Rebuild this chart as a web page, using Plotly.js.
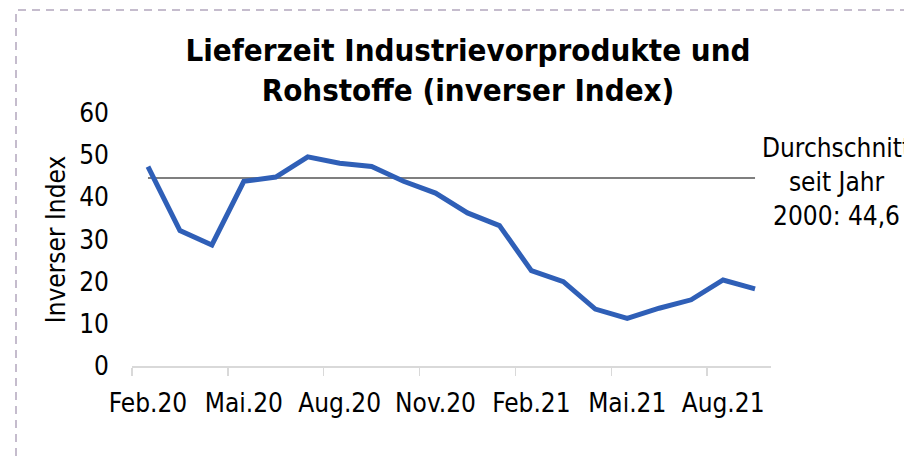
<!DOCTYPE html>
<html>
<head>
<meta charset="utf-8">
<script src="https://cdn.plot.ly/plotly-3.0.1.min.js"></script>
<style>
html, body { margin: 0; padding: 0; background: #fff; }
#chart { width: 904px; height: 459px; }
</style>
</head>
<body>
<div id="chart"></div>
<script>
const months = ["Feb.20","Mär.20","Apr.20","Mai.20","Jun.20","Jul.20","Aug.20","Sep.20","Okt.20","Nov.20","Dez.20","Jan.21","Feb.21","Mär.21","Apr.21","Mai.21","Jun.21","Jul.21","Aug.21","Sep.21"];
const inverseIndex = [47.3, 32.1, 28.7, 43.8, 44.8, 49.6, 48.1, 47.3, 43.8, 41.0, 36.3, 33.3, 22.6, 20.0, 13.5, 11.3, 13.7, 15.7, 20.4, 18.3];
const averageSince2000 = 44.6;
const averageSeries = months.map(() => averageSince2000);

const FONT = '"DejaVu Sans Condensed", "DejaVu Sans", sans-serif';

const L = 132, R = 133, T = 113, B = 93;
const W = 904, H = 459;
const pw = W - L - R, ph = H - T - B;
const px = x => (x - L) / pw;
const py = y => (H - B - y) / ph;

const traces = [
  {
    x: months, y: averageSeries, type: 'scatter', mode: 'lines',
    line: { color: '#7f7f7f', width: 2 }, hoverinfo: 'skip', showlegend: false
  },
  {
    x: months, y: inverseIndex, type: 'scatter', mode: 'lines',
    line: { color: '#2f5fb7', width: 5 }, showlegend: false
  }
];

const layout = {
  width: W, height: H,
  margin: { l: L, r: R, t: T, b: B, pad: 0 },
  paper_bgcolor: '#fff', plot_bgcolor: '#fff',
  font: { family: FONT, size: 26, color: '#000' },
  title: {
    text: '<b>Lieferzeit Industrievorprodukte und<br>Rohstoffe (inverser Index)</b>',
    font: { family: FONT, size: 31, color: '#000' },
    xref: 'container', yref: 'container', x: 468 / W, y: 1 - 61 / H,
    xanchor: 'center', yanchor: 'middle'
  },
  xaxis: {
    type: 'category', range: [-0.5, months.length - 0.5],
    tickmode: 'linear', tick0: 0, dtick: 3, tickson: 'boundaries',
    ticks: 'outside', ticklen: 8, tickcolor: '#d9d9d9', tickwidth: 1.5,
    showline: true, linecolor: '#d9d9d9', linewidth: 1.5,
    showgrid: false, zeroline: false, tickangle: 0,
    tickfont: { family: FONT, size: 26, color: '#000' },
    ticklabelstandoff: 13, fixedrange: true
  },
  yaxis: {
    range: [0, 60], tickmode: 'linear', tick0: 0, dtick: 10,
    showgrid: false, zeroline: false, showline: false, ticks: '',
    tickfont: { family: FONT, size: 26, color: '#000' },
    ticklabelstandoff: 22,
    title: { text: 'Inverser Index', font: { family: FONT, size: 26, color: '#000' }, standoff: 6 },
    fixedrange: true
  },
  annotations: [
    {
      text: 'Durchschnitt<br>seit Jahr<br>2000: 44,6',
      xref: 'paper', yref: 'paper', x: px(836), y: py(182),
      xanchor: 'center', yanchor: 'middle', showarrow: false, align: 'center',
      font: { family: FONT, size: 26, color: '#000' }
    }
  ],
  shapes: [
    {
      type: 'rect', xref: 'paper', yref: 'paper',
      x0: px(16), x1: px(920), y0: py(480), y1: py(10),
      line: { color: '#b3a6bd', width: 1.5, dash: '8px,6px' }
    }
  ]
};

Plotly.newPlot('chart', traces, layout, { displayModeBar: false, staticPlot: true });
</script>
</body>
</html>
